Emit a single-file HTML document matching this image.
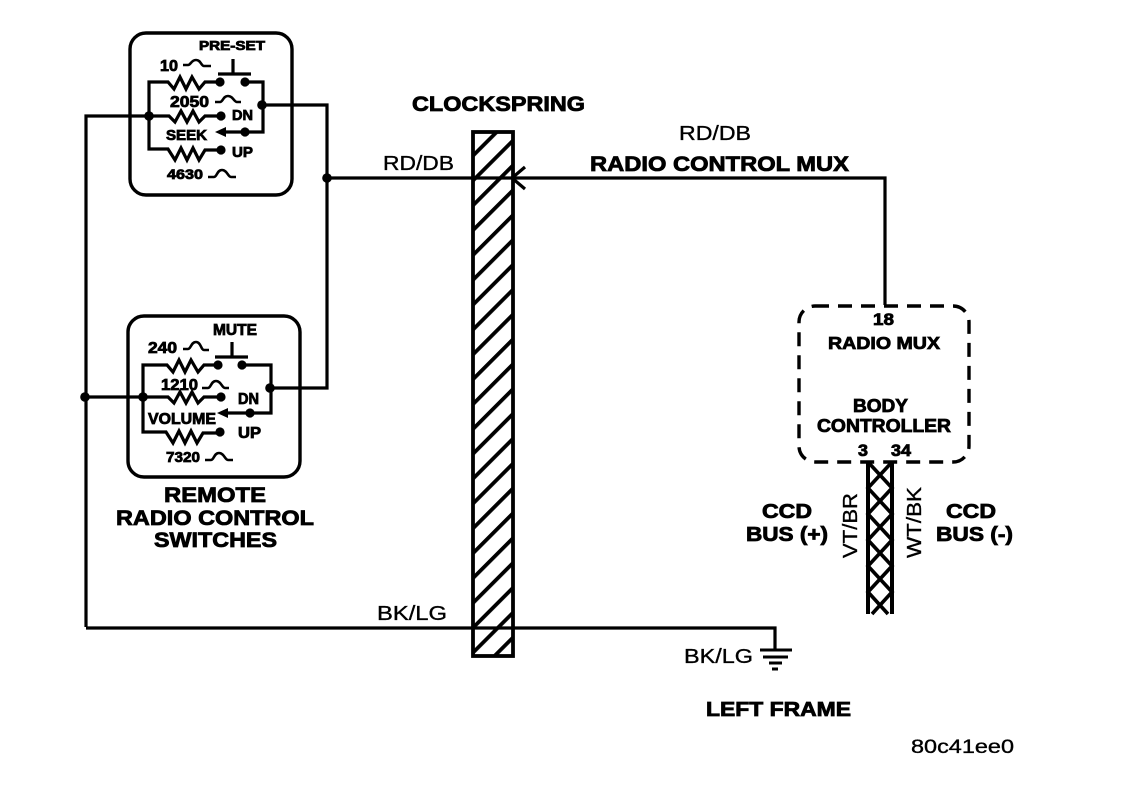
<!DOCTYPE html>
<html>
<head>
<meta charset="utf-8">
<style>
html,body{margin:0;padding:0;background:#fff}
svg{display:block}
text{font-family:"Liberation Sans",sans-serif;fill:#000}
.b{font-weight:bold;stroke:#000;stroke-width:.8}
.r{stroke:#000;stroke-width:.35}
.w{fill:none;stroke:#000;stroke-width:3.2;stroke-linejoin:miter}
.h{fill:none;stroke:#000;stroke-width:2.6}
</style>
</head>
<body>
<svg xmlns="http://www.w3.org/2000/svg" width="1136" height="790" viewBox="0 0 1136 790">
<defs>
<pattern id="hatch" patternUnits="userSpaceOnUse" width="17.57" height="10" patternTransform="translate(473 153) rotate(45)">
<rect x="0" y="0" width="3.8" height="10" fill="#000"/>
</pattern>
</defs>
<rect width="1136" height="790" fill="#fff"/>

<!-- Clockspring -->
<rect x="473" y="132" width="40" height="524" fill="url(#hatch)" stroke="#000" stroke-width="3.8"/>

<!-- Main wires -->
<path class="w" d="M86 627V116H149"/>
<path class="w" d="M86 628H775V650"/>
<path class="w" d="M262 105H327V388H270"/>
<path class="w" d="M327 178H885V305"/>
<path class="w" d="M85 397H143"/>
<path class="w" d="M525 167L512 178L525 189"/>

<!-- Switch box 1 -->
<rect x="130" y="33" width="162" height="162" rx="16" fill="none" stroke="#000" stroke-width="3.4"/>
<path class="w" d="M220 82H205L199 89L192 77L186 89L180 77L174 89L168 82H149V149H168L175 160L181 148L187 160L193 148L199 160L205 150H221"/>
<path class="w" d="M149 116H169L175 122L181 111L187 122L193 111L199 122L205 116H221"/>
<path class="w" d="M245 82H263V132H245"/>
<path class="w" d="M245 132H222"/>
<path d="M215 132L226 127V137Z" fill="#000"/>
<path class="w" d="M218 74H251M233 59V74"/>
<g fill="#000">
<circle cx="220" cy="82" r="4.6"/><circle cx="245" cy="82" r="4.6"/>
<circle cx="221" cy="116" r="4.6"/><circle cx="245" cy="132" r="4.6"/>
<circle cx="221" cy="150" r="4.6"/><circle cx="149" cy="116" r="4.8"/>
<circle cx="262" cy="105" r="4.8"/><circle cx="327" cy="178" r="4.8"/>
<circle cx="85" cy="397" r="4.8"/><circle cx="143" cy="397" r="4.8"/>
<circle cx="270" cy="388" r="4.8"/>
</g>
<path class="h" d="M183 65H188C191 65 191 60 196 60C201 60 201 66 204 66H211"/>
<path class="h" d="M215 102H220C223 102 223 96 228 96C233 96 234 102 237 102H241"/>
<path class="h" d="M208 177H214C217 177 217 170 222 170C227 170 228 177 231 177H236"/>
<text class="b" x="199" y="50" font-size="13" textLength="66" lengthAdjust="spacingAndGlyphs">PRE-SET</text>
<text class="b" x="160" y="71" font-size="16" textLength="18" lengthAdjust="spacingAndGlyphs">10</text>
<text class="b" x="170" y="107" font-size="16" textLength="39" lengthAdjust="spacingAndGlyphs">2050</text>
<text class="b" x="232" y="120" font-size="15" textLength="21" lengthAdjust="spacingAndGlyphs">DN</text>
<text class="b" x="166" y="140" font-size="14.5" textLength="41" lengthAdjust="spacingAndGlyphs">SEEK</text>
<text class="b" x="232" y="157" font-size="15" textLength="21" lengthAdjust="spacingAndGlyphs">UP</text>
<text class="b" x="167" y="179" font-size="14" textLength="36" lengthAdjust="spacingAndGlyphs">4630</text>

<!-- Switch box 2 -->
<rect x="128" y="316" width="172" height="161" rx="16" fill="none" stroke="#000" stroke-width="3.4"/>
<path class="w" d="M218 365H204L198 372L191 360L185 372L179 360L173 372L167 365H143V432H166L173 443L179 431L185 443L191 431L197 443L203 433H220"/>
<path class="w" d="M143 397H168L174 403L180 392L186 403L192 392L198 403L204 397H221"/>
<path class="w" d="M242 365H271V413H250"/>
<path class="w" d="M250 413H224"/>
<path d="M217 413L228 408V418Z" fill="#000"/>
<path class="w" d="M215 357H248M232 342V357"/>
<g fill="#000">
<circle cx="218" cy="365" r="4.6"/><circle cx="242" cy="365" r="4.6"/>
<circle cx="221" cy="397" r="4.6"/><circle cx="250" cy="413" r="4.6"/>
<circle cx="220" cy="432" r="4.6"/>
</g>
<path class="h" d="M183 349H188C191 349 191 342 196 342C201 342 201 350 204 350H209"/>
<path class="h" d="M202 388H208C211 388 211 381 216 381C221 381 222 388 225 388H229"/>
<path class="h" d="M205 460H211C214 460 214 453 219 453C224 453 225 460 228 460H233"/>
<text class="b" x="213" y="335" font-size="15.5" textLength="44" lengthAdjust="spacingAndGlyphs">MUTE</text>
<text class="b" x="148" y="353" font-size="16" textLength="29" lengthAdjust="spacingAndGlyphs">240</text>
<text class="b" x="161" y="390" font-size="16" textLength="37" lengthAdjust="spacingAndGlyphs">1210</text>
<text class="b" x="238" y="404" font-size="15.5" textLength="21" lengthAdjust="spacingAndGlyphs">DN</text>
<text class="b" x="148" y="424" font-size="15.5" textLength="68" lengthAdjust="spacingAndGlyphs">VOLUME</text>
<text class="b" x="238" y="438" font-size="15.5" textLength="23" lengthAdjust="spacingAndGlyphs">UP</text>
<text class="b" x="166" y="462" font-size="15" textLength="34" lengthAdjust="spacingAndGlyphs">7320</text>

<text class="b" x="164" y="502" font-size="21" textLength="102" lengthAdjust="spacingAndGlyphs">REMOTE</text>
<text class="b" x="116" y="525" font-size="21" textLength="198" lengthAdjust="spacingAndGlyphs">RADIO CONTROL</text>
<text class="b" x="154" y="547" font-size="21" textLength="123" lengthAdjust="spacingAndGlyphs">SWITCHES</text>

<!-- Centre labels -->
<text class="b" x="412" y="111" font-size="21" textLength="173" lengthAdjust="spacingAndGlyphs">CLOCKSPRING</text>
<text class="r" x="383" y="170" font-size="20" textLength="71" lengthAdjust="spacingAndGlyphs">RD/DB</text>
<text class="r" x="679" y="140" font-size="20" textLength="72" lengthAdjust="spacingAndGlyphs">RD/DB</text>
<text class="b" x="590" y="171" font-size="21" textLength="259" lengthAdjust="spacingAndGlyphs">RADIO CONTROL MUX</text>
<text class="r" x="377" y="620" font-size="20" textLength="70" lengthAdjust="spacingAndGlyphs">BK/LG</text>
<text class="r" x="684" y="663" font-size="20" textLength="69" lengthAdjust="spacingAndGlyphs">BK/LG</text>
<text class="b" x="706" y="716" font-size="20" textLength="145" lengthAdjust="spacingAndGlyphs">LEFT FRAME</text>
<text class="r" x="911" y="753" font-size="19" textLength="103" lengthAdjust="spacingAndGlyphs">80c41ee0</text>

<!-- Ground -->
<path d="M760 650H792M763 657H788M769 663H782M772 669H778" fill="none" stroke="#000" stroke-width="3"/>

<!-- Body controller -->
<rect x="799" y="306" width="170" height="156" rx="16" fill="none" stroke="#000" stroke-width="3.4" stroke-dasharray="14 9"/>
<text class="b" x="873" y="325" font-size="17" textLength="21" lengthAdjust="spacingAndGlyphs">18</text>
<text class="b" x="828" y="349" font-size="17.5" textLength="112" lengthAdjust="spacingAndGlyphs">RADIO MUX</text>
<text class="b" x="853" y="412" font-size="18" textLength="55" lengthAdjust="spacingAndGlyphs">BODY</text>
<text class="b" x="817" y="432" font-size="18" textLength="134" lengthAdjust="spacingAndGlyphs">CONTROLLER</text>
<text class="b" x="858" y="456" font-size="17" textLength="10" lengthAdjust="spacingAndGlyphs">3</text>
<text class="b" x="891" y="456" font-size="17" textLength="20" lengthAdjust="spacingAndGlyphs">34</text>

<!-- Twisted pair -->
<path d="M868 462V614M892 462V614" fill="none" stroke="#000" stroke-width="4"/>
<path d="M868 462L892 488L868 514L892 540L868 566L892 592L872 614M892 462L868 488L892 514L868 540L892 566L868 592L888 614" fill="none" stroke="#000" stroke-width="3.6"/>

<text class="r" transform="translate(857 558) rotate(-90)" x="0" y="0" font-size="20" textLength="65" lengthAdjust="spacingAndGlyphs">VT/BR</text>
<text class="r" transform="translate(921 558) rotate(-90)" x="0" y="0" font-size="20" textLength="71" lengthAdjust="spacingAndGlyphs">WT/BK</text>
<text class="b" x="762" y="518" font-size="20" textLength="50" lengthAdjust="spacingAndGlyphs">CCD</text>
<text class="b" x="746" y="541" font-size="20" textLength="82" lengthAdjust="spacingAndGlyphs">BUS (+)</text>
<text class="b" x="946" y="518" font-size="20" textLength="50" lengthAdjust="spacingAndGlyphs">CCD</text>
<text class="b" x="936" y="541" font-size="20" textLength="77" lengthAdjust="spacingAndGlyphs">BUS (-)</text>
</svg>
</body>
</html>
